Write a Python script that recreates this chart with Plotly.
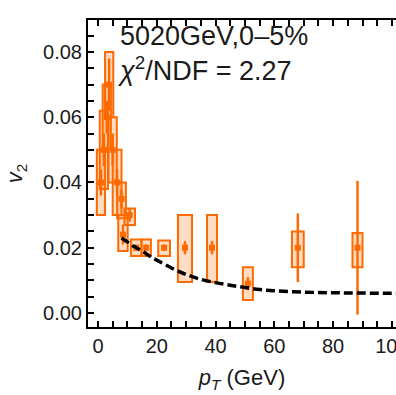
import plotly.graph_objects as go

# v2 measurements at 5020 GeV, 0-5% centrality
pt       = [1.0, 2.0, 3.0, 3.8, 5.0, 6.5, 8.0, 8.5, 10.8, 13.0, 16.4, 22.5, 29.6, 38.8, 51.0, 68.0, 88.3]
v2       = [0.040, 0.050, 0.060, 0.070, 0.050, 0.040, 0.035, 0.024, 0.030, 0.020, 0.020, 0.020, 0.020, 0.020, 0.009, 0.020, 0.020]
stat_err = [0.004, 0.005, 0.005, 0.008, 0.005, 0.004, 0.003, 0.003, 0.002, 0.001, 0.001, 0.001, 0.002, 0.002, 0.002, 0.0105, 0.0205]
sys_lo   = [0.030, 0.038, 0.050, 0.060, 0.040, 0.030, 0.029, 0.019, 0.027, 0.0175, 0.0175, 0.0175, 0.0095, 0.0095, 0.004, 0.014, 0.014]
sys_hi   = [0.050, 0.062, 0.070, 0.080, 0.060, 0.050, 0.040, 0.030, 0.032, 0.0225, 0.0225, 0.0222, 0.030, 0.030, 0.014, 0.025, 0.0245]
box_w    = [2.8, 2.8, 2.8, 2.8, 2.8, 3.0, 3.0, 3.2, 3.6, 3.6, 3.2, 4.0, 4.8, 3.4, 3.4, 4.0, 3.4]

# model curve
model_pt = [8, 10, 12, 15, 18, 20, 25, 30, 35, 40, 45, 50, 55, 60, 70, 80, 90, 102]
model_v2 = [0.0230, 0.0218, 0.0205, 0.0190, 0.0172, 0.0162, 0.0138, 0.0118, 0.0103, 0.0093,
            0.0085, 0.0078, 0.0072, 0.0068, 0.0064, 0.0062, 0.0061, 0.0060]

x_ticks = [0, 20, 40, 60, 80, 100]
y_ticks = [0.00, 0.02, 0.04, 0.06, 0.08]
y_tick_text = ["0.00", "0.02", "0.04", "0.06", "0.08"]

ORANGE = "rgb(255,106,0)"
FILL = "rgba(255,120,20,0.25)"
FONT = "Liberation Sans"

fig = go.Figure()

# systematic boxes
fig.add_trace(go.Bar(
    x=pt,
    y=[h - l for h, l in zip(sys_hi, sys_lo)],
    base=sys_lo,
    width=box_w,
    marker=dict(color=FILL, line=dict(color=ORANGE, width=2)),
    hoverinfo="skip",
    showlegend=False,
))

# points with statistical errors
fig.add_trace(go.Scatter(
    x=pt, y=v2, mode="markers",
    marker=dict(symbol="square", size=6, color=ORANGE),
    error_y=dict(type="data", array=stat_err, color=ORANGE, thickness=2.5, width=0),
    showlegend=False,
))

fig.add_trace(go.Scatter(
    x=model_pt, y=model_v2, mode="lines",
    line=dict(color="black", width=3.5, dash="9px,4px", shape="spline"),
    showlegend=False,
))

fig.add_annotation(
    x=0, y=1, xref="paper", yref="paper", xanchor="left", yanchor="top",
    xshift=28, yshift=1, align="left", showarrow=False,
    text="5020GeV,0–5%<br><i>χ</i><sup>2</sup>/NDF = 2.27",
    font=dict(family=FONT, size=27, color="#1a1a1a"),
)

fig.update_layout(
    width=396, height=395,
    margin=dict(l=88, r=0, t=20, b=68, autoexpand=False),
    paper_bgcolor="white", plot_bgcolor="white",
    barmode="overlay",
    font=dict(family=FONT, size=20, color="#1a1a1a"),
    xaxis=dict(
        range=[-3.4, 101.4], tickvals=x_ticks,
        ticks="inside", ticklen=6, tickwidth=1.5, tickcolor="black",
        ticklabeloverflow="allow", automargin=False,
        minor=dict(dtick=5, tick0=0, ticks="inside", ticklen=6, tickwidth=1.5, tickcolor="black"),
        showline=True, linecolor="black", linewidth=2, mirror="allticks",
        showgrid=False, zeroline=False,
        title=dict(text="<i>p</i><sub><i>T</i></sub> (GeV)", font=dict(size=22), standoff=14),
    ),
    yaxis=dict(
        range=[-0.0043, 0.0898], tickvals=y_ticks, ticktext=y_tick_text,
        ticks="inside", ticklen=6, tickwidth=1.5, tickcolor="black",
        automargin=False,
        minor=dict(dtick=0.005, tick0=0, ticks="inside", ticklen=6, tickwidth=1.5, tickcolor="black"),
        showline=True, linecolor="black", linewidth=2, mirror=False,
        showgrid=False, zeroline=False,
        title=dict(text="<i>v</i><sub>2</sub>", font=dict(size=22), standoff=14),
    ),
)

fig.write_html("out.html")
